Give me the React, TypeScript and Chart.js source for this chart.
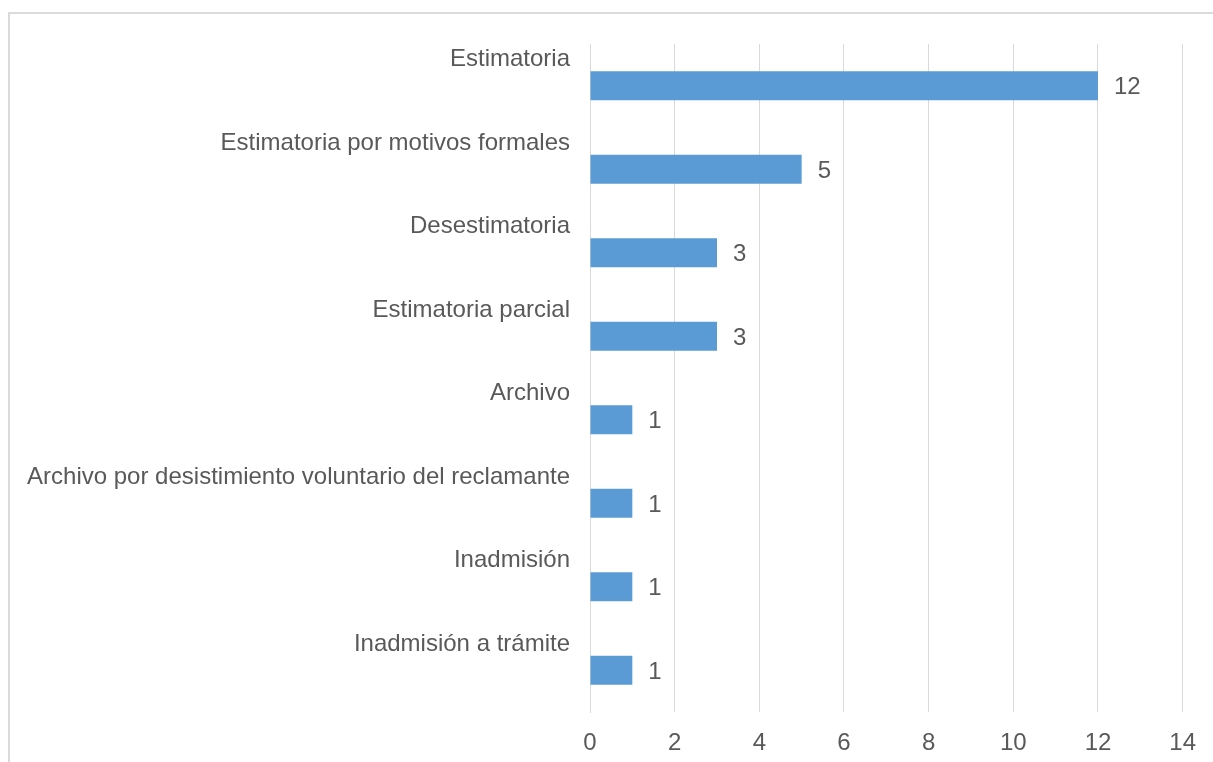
import React, { useEffect, useRef } from "react";
import { Chart, registerables } from "chart.js";

Chart.register(...registerables);

const categories = [
  "Estimatoria",
  "Estimatoria por motivos formales",
  "Desestimatoria",
  "Estimatoria parcial",
  "Archivo",
  "Archivo por desistimiento voluntario del reclamante",
  "Inadmisión",
  "Inadmisión a trámite",
];
const values = [12, 5, 3, 3, 1, 1, 1, 1];
const xMin = 0;
const xMax = 14;
const xStep = 2;

const FONT = "'Liberation Sans', Arial, sans-serif";
const TEXT = "#595959";
const GRID = "#D9D9D9";
const BAR = "#5B9BD5";
const SIZE = 24;

const valueLabels = {
  id: "valueLabels",
  afterDatasetsDraw(chart: any) {
    const ctx = chart.ctx;
    const meta = chart.getDatasetMeta(0);
    ctx.save();
    ctx.font = `${SIZE}px ${FONT}`;
    ctx.fillStyle = TEXT;
    ctx.textAlign = "left";
    ctx.textBaseline = "middle";
    meta.data.forEach((el: any, i: number) => {
      ctx.fillText(String(values[i]), el.x + 16, el.y + 2);
    });
    ctx.restore();
  },
};

export default function App() {
  const ref = useRef<HTMLCanvasElement>(null);
  useEffect(() => {
    if (!ref.current) return;
    const chart = new Chart(ref.current, {
      type: "bar",
      data: {
        labels: categories,
        datasets: [
          {
            data: values,
            backgroundColor: BAR,
            borderWidth: 0,
            barPercentage: 0.35,
            categoryPercentage: 1,
          },
        ],
      },
      options: {
        indexAxis: "y",
        animation: false,
        responsive: false,
        devicePixelRatio: 1,
        layout: { padding: { left: 0, top: 44, right: 28, bottom: 0 } },
        plugins: { legend: { display: false }, tooltip: { enabled: false } },
        scales: {
          x: {
            min: xMin,
            max: xMax,
            grid: { color: GRID, lineWidth: 1, drawTicks: false },
            border: { display: false },
            ticks: {
              stepSize: xStep,
              color: TEXT,
              font: { family: FONT, size: SIZE },
              padding: 17,
            },
            afterFit: (s: any) => {
              s.height = 50;
            },
          },
          y: {
            grid: { display: false, drawTicks: false },
            border: { display: true, color: GRID, width: 1 },
            ticks: {
              color: TEXT,
              font: { family: FONT, size: SIZE },
              padding: 20,
              labelOffset: -26,
              autoSkip: false,
            },
            afterFit: (s: any) => {
              s.width = 590;
            },
          },
        },
      },
      plugins: [valueLabels],
    });
    return () => chart.destroy();
  }, []);
  return (
    <div
      style={{
        position: "fixed",
        left: 0,
        top: 0,
        width: 1213,
        height: 762,
        overflow: "hidden",
        background: "#fff",
      }}
    >
      <div
        style={{
          position: "absolute",
          left: 8,
          top: 12,
          width: 1300,
          height: 900,
          borderTop: "2px solid #DADADA",
          borderLeft: "2px solid #DADADA",
        }}
      />
      <canvas
        ref={ref}
        width={1213}
        height={762}
        style={{ position: "absolute", left: 0, top: 0, width: 1213, height: 762 }}
      />
    </div>
  );
}
